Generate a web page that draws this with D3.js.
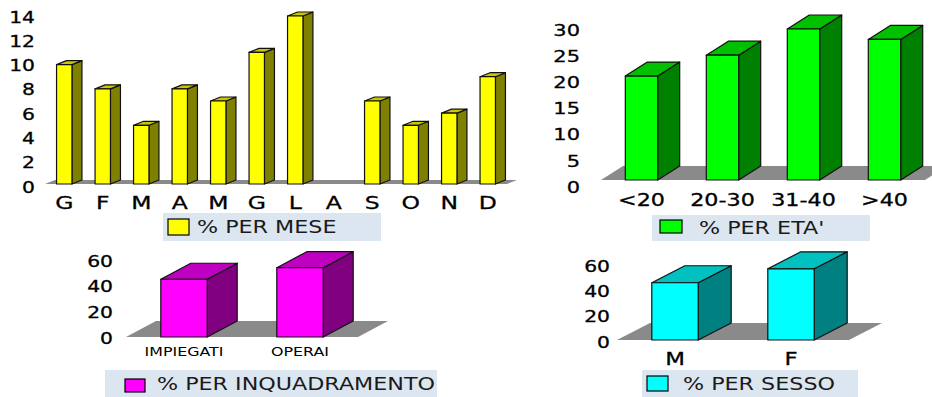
<!DOCTYPE html>
<html>
<head>
<meta charset="utf-8">
<script src="https://cdn.jsdelivr.net/npm/d3@7"></script>
<style>
  body { margin: 0; background: #fff; }
  svg { display: block; font-family: 'DejaVu Sans', sans-serif; }
  svg .tick text { stroke: #000; stroke-width: 0.3px; }
  svg text.small { stroke: none; }
</style>
</head>
<body>
<div id="chart"></div>
<script>
// values
const monthLabels = ['G', 'F', 'M', 'A', 'M', 'G', 'L', 'A', 'S', 'O', 'N', 'D']
const monthValues = [10, 8, 5, 8, 7, 11, 14, 0, 7, 5, 6, 9]
const monthTicks = [0, 2, 4, 6, 8, 10, 12, 14]

const ageLabels = ['<20', '20-30', '31-40', '>40']
const ageValues = [21, 25, 30, 28]
const ageTicks = [0, 5, 10, 15, 20, 25, 30]

const roleLabels = ['IMPIEGATI', 'OPERAI']
const roleValues = [45, 54]
const roleTicks = [0, 20, 40, 60]

const sexLabels = ['M', 'F']
const sexValues = [46, 57]
const sexTicks = [0, 20, 40, 60]

const legendTitles = ['% PER MESE', "% PER ETA'", '% PER INQUADRAMENTO', '% PER SESSO']

// text in the original is stretched sideways
const SX = 1.27

const svg = d3.select('#chart').append('svg')
    .attr('width', 932)
    .attr('height', 397)

const panels = [
    {
        labels: monthLabels, values: monthValues, ticks: monthTicks, title: legendTitles[0],
        xRange: [45, 507], yRange: [186, 16], base: 184, depth: [10, -4],
        axisX: 35, tickFont: 16, labelFont: 18.5, labelPad: 12,
        colors: { front: '#ffff00', side: '#808000', top: '#c8c800' },
        box: [163, 213, 218, 28], swatch: [168, 219, 21, 16], textX: 197
    },
    {
        labels: ageLabels, values: ageValues, ticks: ageTicks, title: legendTitles[1],
        xRange: [601, 925], yRange: [186, 29], base: 180, depth: [22, -14],
        axisX: 580, tickFont: 16.5, labelFont: 17.5, labelPad: 14,
        colors: { front: '#00ff00', side: '#008000', top: '#00c000' },
        box: [652, 215, 218, 26], swatch: [660, 220, 22, 13], textX: 699
    },
    {
        labels: roleLabels, values: roleValues, ticks: roleTicks, title: legendTitles[2],
        xRange: [126, 358], yRange: [337, 260], base: 337, depth: [30, -16],
        axisX: 113, tickFont: 16, labelFont: 12.5, labelPad: 10,
        colors: { front: '#ff00ff', side: '#800080', top: '#c000c0' },
        box: [105, 370, 332, 27], swatch: [125, 379, 20, 13], textX: 157
    },
    {
        labels: sexLabels, values: sexValues, ticks: sexTicks, title: legendTitles[3],
        xRange: [617, 849], yRange: [341, 265], base: 340, depth: [33, -17],
        axisX: 610, tickFont: 16, labelFont: 18, labelPad: 12,
        colors: { front: '#00ffff', side: '#008080', top: '#00c0c0' },
        box: [642, 370, 216, 27], swatch: [647, 376, 21, 15], textX: 683
    }
]

panels.forEach(drawPanel)

function drawPanel(p) {
    const g = svg.append('g')
    const n = p.labels.length
    const pad = 0.6
    const x = d3.scaleBand().domain(d3.range(n)).range(p.xRange)
        .paddingInner(pad).paddingOuter(pad / 2)
    const y = d3.scaleLinear().domain([0, d3.max(p.ticks)]).range(p.yRange)
    const [dx, dy] = p.depth
    const bw = x.bandwidth()
    const base = p.base

    // grey floor
    const [r0, r1] = x.range()
    g.append('path')
        .attr('d', `M${r0},${base}L${r1},${base}L${r1 + dx},${base + dy}L${r0 + dx},${base + dy}Z`)
        .attr('fill', '#8a8a8a')

    const data = p.values.map((v, i) => ({ i, v })).filter(d => d.v > 0)
    const bars = g.selectAll('g.bar').data(data).enter().append('g').attr('class', 'bar')
        .attr('stroke', '#111').attr('stroke-width', 1.2).attr('stroke-linejoin', 'round')

    bars.append('path')
        .attr('fill', p.colors.side)
        .attr('d', d => {
            const x1 = x(d.i) + bw, t = y(d.v)
            return `M${x1},${t}L${x1 + dx},${t + dy}L${x1 + dx},${base + dy}L${x1},${base}Z`
        })
    bars.append('path')
        .attr('fill', p.colors.top)
        .attr('d', d => {
            const x0 = x(d.i), t = y(d.v)
            return `M${x0},${t}L${x0 + dx},${t + dy}L${x0 + bw + dx},${t + dy}L${x0 + bw},${t}Z`
        })
    bars.append('rect')
        .attr('fill', p.colors.front)
        .attr('x', d => x(d.i))
        .attr('y', d => y(d.v))
        .attr('width', bw)
        .attr('height', d => base - y(d.v))

    // value axis
    const ya = g.append('g')
        .attr('transform', `translate(${p.axisX},1)`)
        .call(d3.axisLeft(y).tickValues(p.ticks).tickSize(0).tickPadding(0))
    ya.select('.domain').remove()
    ya.selectAll('text')
        .attr('font-size', p.tickFont)
        .attr('font-family', 'DejaVu Sans, sans-serif')
        .attr('fill', '#000')
        .attr('transform', `scale(${SX},1)`)

    // category axis
    const xa = g.append('g')
        .attr('transform', `translate(0,${base})`)
        .call(d3.axisBottom(x).tickSize(0).tickPadding(p.labelPad).tickFormat(i => p.labels[i]))
    xa.select('.domain').remove()
    xa.selectAll('text')
        .attr('font-size', p.labelFont)
        .attr('font-family', 'DejaVu Sans, sans-serif')
        .attr('fill', '#000')
        .attr('transform', `scale(${SX},1)`)
        .classed('small', p.labelFont < 14)

    // legend
    const [bx, by, bwid, bh] = p.box
    g.append('rect')
        .attr('x', bx).attr('y', by).attr('width', bwid).attr('height', bh)
        .attr('fill', '#dce6f1')
    const [sx, sy, sw, sh] = p.swatch
    g.append('rect')
        .attr('x', sx).attr('y', sy).attr('width', sw).attr('height', sh)
        .attr('fill', p.colors.front).attr('stroke', '#000').attr('stroke-width', 1.2)
    g.append('g')
        .attr('transform', `translate(${p.textX},${by + bh / 2})`)
        .append('text')
        .attr('transform', `scale(${SX},1)`)
        .attr('dy', '0.36em')
        .attr('font-size', 17.5)
        .attr('fill', '#1a1a1a')
        .text(p.title)
}
</script>
</body>
</html>
